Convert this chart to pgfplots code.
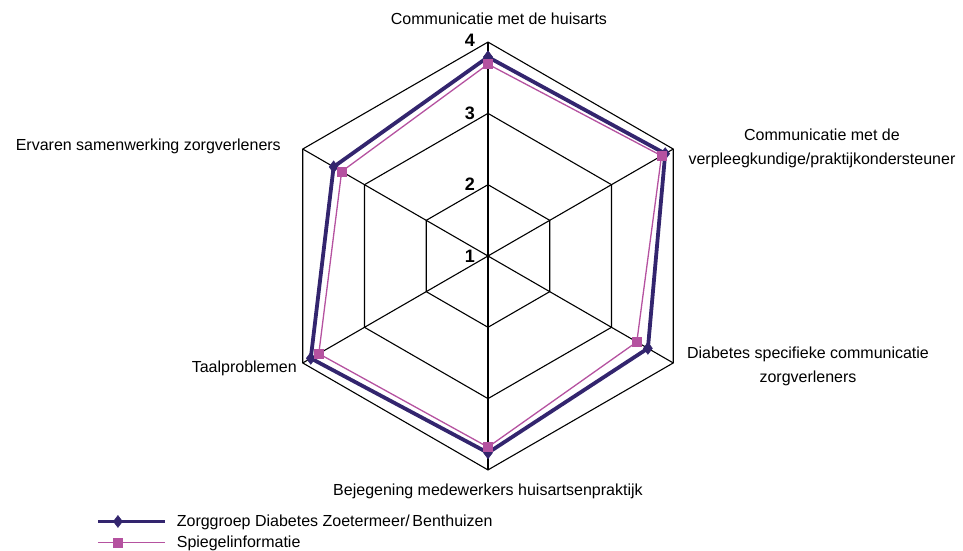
\documentclass[border=0pt]{standalone}
\usepackage{pgfplots}
\usepackage{pgfplotstable}
\pgfplotsset{compat=1.18}
\usepackage{fontspec}
\setmainfont{Liberation Sans}
\definecolor{zorg}{RGB}{51,37,110}
\definecolor{spieg}{RGB}{181,82,160}

\pgfplotstableread{
a v
90 3.79
30 3.87
-30 3.59
-90 3.76
-150 3.87
150 3.50
90 3.79
}\zorgtab

\pgfplotstableread{
a v
90 3.69
30 3.81
-30 3.41
-90 3.68
-150 3.74
150 3.37
90 3.69
}\spiegtab

\begin{document}
\begin{tikzpicture}
\begin{axis}[
  scale only axis,
  width=963pt, height=550pt,
  xmin=-6.844, xmax=6.662,
  ymin=-4.123, ymax=3.590,
  hide axis,
  clip=false,
  legend cell align=left,
  legend style={at={(axis cs:-5.50,-3.60)}, anchor=north west, draw=none, fill=none,
    font=\fontsize{16}{18}\selectfont, row sep=4pt, column sep=8pt, inner sep=0pt},
  legend image code/.code={\draw[mark repeat=2,mark phase=2,#1] plot coordinates {(0pt,0pt) (20pt,0pt) (67pt,0pt)};},
]
% grid hexagons
\addplot[black, line width=1.1pt, forget plot] coordinates {(0,1) (0.866,0.5) (0.866,-0.5) (0,-1) (-0.866,-0.5) (-0.866,0.5) (0,1)};
\addplot[black, line width=1.1pt, forget plot] coordinates {(0,2) (1.732,1) (1.732,-1) (0,-2) (-1.732,-1) (-1.732,1) (0,2)};
\addplot[black, line width=1.1pt, forget plot] coordinates {(0,3) (2.598,1.5) (2.598,-1.5) (0,-3) (-2.598,-1.5) (-2.598,1.5) (0,3)};
% spokes
\addplot[black, line width=1.1pt, forget plot] coordinates {(0,3) (0,-3)};
\addplot[black, line width=1.1pt, forget plot] coordinates {(2.598,1.5) (-2.598,-1.5)};
\addplot[black, line width=1.1pt, forget plot] coordinates {(2.598,-1.5) (-2.598,1.5)};
% data
\addplot[zorg, line width=3.8pt, mark=diamond*, mark size=6pt, mark options={solid, line width=0.5pt, fill=zorg, draw=zorg}]
  table[x expr={(\thisrow{v}-1)*cos(\thisrow{a})}, y expr={(\thisrow{v}-1)*sin(\thisrow{a})}] {\zorgtab};
\addlegendentry{Zorggroep Diabetes Zoetermeer/\,Benthuizen}
\addplot[spieg, line width=1.3pt, mark=square*, mark size=4.5pt, mark options={solid, line width=0.5pt, fill=spieg, draw=spieg}]
  table[x expr={(\thisrow{v}-1)*cos(\thisrow{a})}, y expr={(\thisrow{v}-1)*sin(\thisrow{a})}] {\spiegtab};
\addlegendentry{Spiegelinformatie}
% tick labels
\node[anchor=east, font=\fontsize{18}{20}\selectfont\bfseries, inner sep=0pt] at (axis cs:-0.18,0.0) {1};
\node[anchor=east, font=\fontsize{18}{20}\selectfont\bfseries, inner sep=0pt] at (axis cs:-0.18,1.0) {2};
\node[anchor=east, font=\fontsize{18}{20}\selectfont\bfseries, inner sep=0pt] at (axis cs:-0.18,2.0) {3};
\node[anchor=east, font=\fontsize{18}{20}\selectfont\bfseries, inner sep=0pt] at (axis cs:-0.18,3.03) {4};
% category labels
\node[font=\fontsize{16}{24}\selectfont, inner sep=0pt] at (axis cs:0.154,3.32) {Communicatie met de huisarts};
\node[font=\fontsize{16}{24}\selectfont, inner sep=0pt, align=center] at (axis cs:4.684,1.515) {Communicatie met de\\verpleegkundige/praktijkondersteuner};
\node[font=\fontsize{16}{24}\selectfont, inner sep=0pt, align=center] at (axis cs:4.488,-1.55) {Diabetes specifieke communicatie\\zorgverleners};
\node[font=\fontsize{16}{24}\selectfont, inner sep=0pt] at (axis cs:0,-3.296) {Bejegening medewerkers huisartsenpraktijk};
\node[font=\fontsize{16}{24}\selectfont, inner sep=0pt, anchor=east] at (axis cs:-2.679,-1.57) {Taalproblemen};
\node[font=\fontsize{16}{24}\selectfont, inner sep=0pt, anchor=east] at (axis cs:-2.903,1.543) {Ervaren samenwerking zorgverleners};
\coordinate (bl) at (rel axis cs:0,0);
\coordinate (tr) at (rel axis cs:1,1);
\end{axis}
\pgfresetboundingbox
\useasboundingbox (bl) rectangle (tr);
\end{tikzpicture}
\end{document}
